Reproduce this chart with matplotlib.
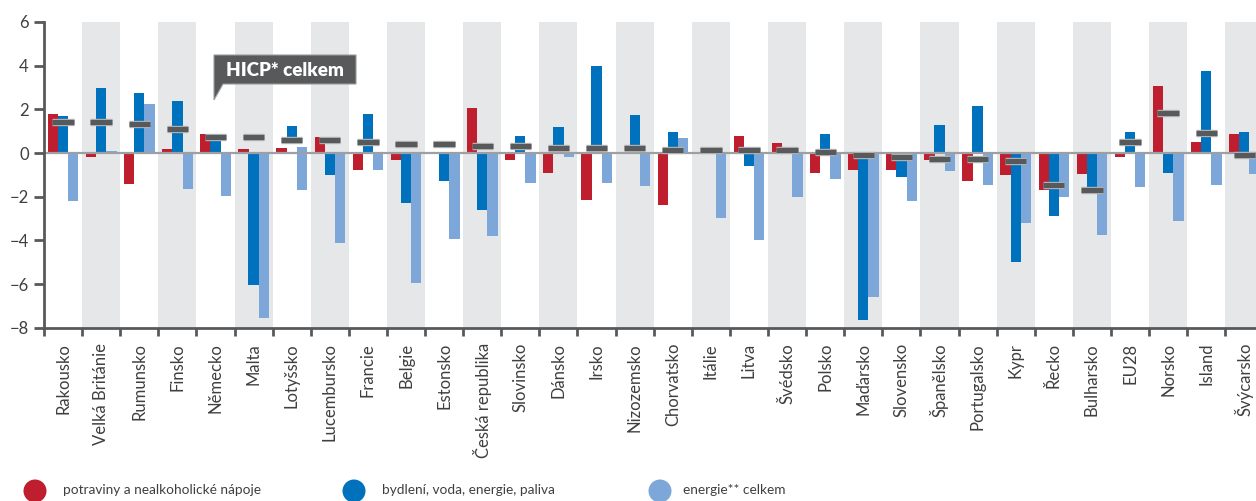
import numpy as np
import matplotlib
matplotlib.use("Agg")
import matplotlib.pyplot as plt
from matplotlib.patches import Circle, Polygon
import matplotlib.patheffects as pe

countries = ["Rakousko", "Velká Británie", "Rumunsko", "Finsko", "Německo", "Malta",
             "Lotyšsko", "Lucembursko", "Francie", "Belgie", "Estonsko", "Česká republika",
             "Slovinsko", "Dánsko", "Irsko", "Nizozemsko", "Chorvatsko", "Itálie", "Litva",
             "Švédsko", "Polsko", "Maďarsko", "Slovensko", "Španělsko", "Portugalsko", "Kypr",
             "Řecko", "Bulharsko", "EU28", "Norsko", "Island", "Švýcarsko"]

food = [1.80, -0.20, -1.44, 0.20, 0.89, 0.20, 0.24, 0.75, -0.79, -0.34, 0.0, 2.08,
        -0.34, -0.93, -2.17, 0.0, -2.40, 0.0, 0.79, 0.47, -0.93, -0.79, -0.79, -0.34,
        -1.30, -1.02, -1.71, -0.98, -0.20, 3.08, 0.52, 0.89]
housing = [1.71, 2.99, 2.76, 2.40, 0.80, -6.06, 1.25, -1.02, 1.80, -2.31, -1.30, -2.63,
           0.79, 1.21, 4.00, 1.76, 0.98, 0.0, -0.61, 0.0, 0.89, -7.66, -1.11, 1.30,
           2.17, -5.00, -2.90, -1.68, 0.98, -0.93, 3.77, 0.98]
housing_from = [0.0] * 32
housing_from[6] = 0.49
energy = [-2.21, 0.11, 2.26, -1.66, -1.98, -7.57, -1.71, -4.14, -0.79, -5.97, -3.95, -3.82,
          -1.39, -0.20, -1.39, -1.53, 0.70, -2.99, -4.00, -2.03, -1.21, -6.61, -2.21, -0.84,
          -1.48, -3.22, -2.03, -3.77, -1.57, -3.13, -1.48, -0.98]
energy_from = [0.0] * 32
energy_from[6] = 0.29
hicp = [1.42, 1.42, 1.31, 1.11, 0.72, 0.72, 0.61, 0.61, 0.52, 0.41, 0.41, 0.32,
        0.32, 0.21, 0.21, 0.21, 0.12, 0.12, 0.12, 0.12, 0.03, -0.09, -0.18, -0.29,
        -0.29, -0.38, -1.48, -1.68, 0.52, 1.82, 0.92, -0.09]

series_names = ["potraviny a nealkoholické nápoje", "bydlení, voda, energie, paliva",
                "energie** celkem"]
yticks = [6, 4, 2, 0, -2, -4, -6, -8]

RED = "#be1e2d"
BLUE = "#0071bc"
LIGHT = "#7da7d9"
BAND = "#e6e7e8"
DARK = "#58595b"
TXT = "#3f3f41"

plt.rcParams['font.family'] = ['Lato', 'DejaVu Sans']

W, H = 1256, 501
fig = plt.figure(figsize=(W / 100, H / 100), dpi=100)
ax = fig.add_axes([44 / W, 173.3 / H, (1263.4 - 44) / W, (479 - 173.3) / H])

n = len(countries)
x = np.arange(n)
bw = 0.27

for i in range(n):
    if i % 2 == 1:
        ax.axvspan(i - 0.5, i + 0.5, color=BAND, lw=0, zorder=0)

food_a = np.array(food)
hf = np.array(housing_from)
ef = np.array(energy_from)
ax.bar(x - 0.265, food_a, width=bw, color=RED, zorder=2, lw=0)
ax.bar(x, np.array(housing) - hf, bottom=hf, width=bw, color=BLUE, zorder=2, lw=0)
ax.bar(x + 0.27, np.array(energy) - ef, bottom=ef, width=bw, color=LIGHT, zorder=2, lw=0)

ax.axhline(0, color="#9d9fa2", lw=1.6, zorder=3)

ax.hlines(hicp, x - 0.28, x + 0.28, color=DARK, lw=3.7, zorder=4,
          path_effects=[pe.Stroke(linewidth=5.3, foreground="#b4b5b7"), pe.Normal()])

ax.set_xlim(-0.5, n - 0.5)
ax.set_ylim(-8, 6)
ax.set_yticks(yticks)
ax.set_yticklabels([str(v).replace("-", "\u2212") for v in yticks])
ax.set_xticks(x)
ax.set_xticklabels(countries, rotation=90, ha="center", va="top")
ax.set_xticks(np.arange(n + 1) - 0.5, minor=True)

for s in ["top", "right"]:
    ax.spines[s].set_visible(False)
for s in ["left", "bottom"]:
    ax.spines[s].set_color(DARK)
    ax.spines[s].set_linewidth(2.0)
    ax.spines[s].set_zorder(5)

ax.tick_params(axis="x", which="major", length=0, pad=11, labelsize=12, labelcolor=TXT)
ax.tick_params(axis="x", which="minor", length=6, width=2, color=DARK, direction="out")
ax.tick_params(axis="y", length=7, width=2, color=DARK, direction="out",
               labelsize=12, labelcolor=TXT, pad=4)

# overlay for legend and annotation (pixel coordinates)
ov = fig.add_axes([0, 0, 1, 1], zorder=10)
ov.set_xlim(0, W)
ov.set_ylim(H, 0)
ov.axis("off")

# annotation bubble
box = Polygon([(214, 55), (356, 55), (356, 84), (223, 84), (214, 100), (214, 84)],
              closed=True, facecolor=DARK, edgecolor="#9a9b9d", lw=0.8)
ov.add_patch(box)
ov.text(285, 70, "HICP* celkem", color="white", fontsize=13.5, fontweight="heavy",
        ha="center", va="center")

# legend
leg_colors = [RED, BLUE, LIGHT]
leg_cx = [35, 354, 660]
leg_tx = [63, 382, 683]
for c, cx, tx, name in zip(leg_colors, leg_cx, leg_tx, series_names):
    ov.add_patch(Circle((cx, 491), 11.5, color=c, lw=0))
    ov.text(tx, 490, name, color=TXT, fontsize=9.8, ha="left", va="center")

fig.savefig("out.png", dpi=100)
